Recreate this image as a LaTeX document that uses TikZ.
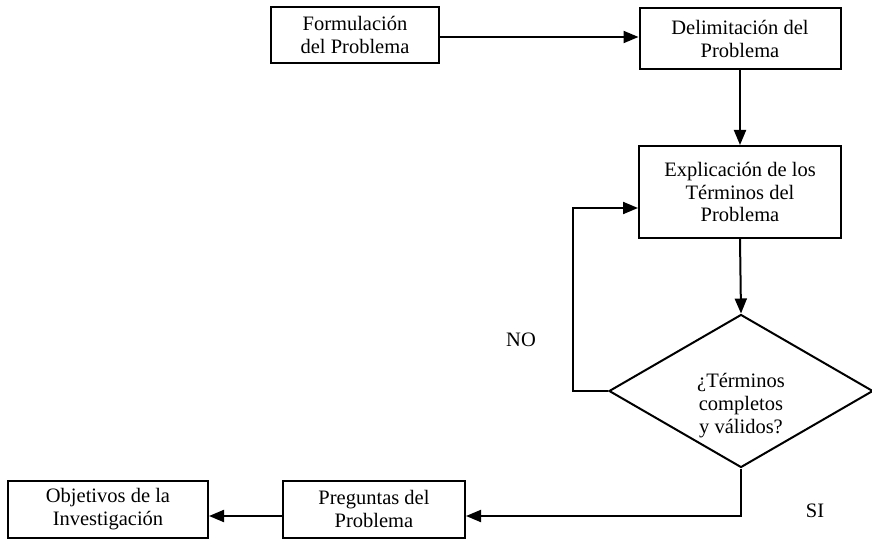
\documentclass[tikz,border=0pt]{standalone}
\usepackage{fontspec}
\setmainfont{Liberation Serif}
\usetikzlibrary{arrows.meta,shapes.geometric}
\begin{document}
\begin{tikzpicture}[x=1pt, y=-1pt, >={Triangle[length=15pt,width=12pt]},
  line width=2pt,
  caja/.style={draw, rectangle, align=center, inner sep=0pt,
    font=\fontsize{20.5}{22.5}\selectfont},
  rombo/.style={draw, diamond, inner sep=0pt, minimum width=264pt, minimum height=153pt},
  etiq/.style={font=\fontsize{20.5}{23}\selectfont}]
  \useasboundingbox (0,0) rectangle (872,540);

  \node[caja, minimum width=168pt, minimum height=56pt] (form) at (355,35) {Formulación\\del Problema};
  \node[caja, minimum width=201pt, minimum height=61pt] (delim) at (740,39) {Delimitación del\\Problema};
  \node[caja, minimum width=202pt, minimum height=92pt] (expl) at (740,192) {Explicación de los\\Términos del\\Problema};
  \node[rombo] (dec) at (741,391) {};
  \node[etiq, align=center] (dtext) at (741,406) {¿Términos\\completos\\y válidos?};
  \node[caja, minimum width=182pt, minimum height=57pt] (preg) at (374,509) {Preguntas del\\Problema};
  \node[caja, minimum width=200pt, minimum height=57pt] (obj) at (108,509) {Objetivos de la\\Investigación};

  \coordinate (noturn) at (573,208);
  \coordinate (siturn) at (741,516);

  \draw[->] (form.east |- 0,37) -- (delim.west |- 0,37);
  \draw[->] (delim.south) -- (expl.north);
  \draw[->] (expl.south) -- (dec.north);
  \draw[->] (dec.west) -| (noturn) -- (expl.west |- noturn);
  \draw[->] (dec.south) -- (siturn) -- (preg.east |- siturn);
  \draw[->] (preg.west |- siturn) -- (obj.east |- siturn);

  \node[etiq] (no) at (521,340) {NO};
  \node[etiq] (si) at (815,511) {SI};
\end{tikzpicture}
\end{document}
